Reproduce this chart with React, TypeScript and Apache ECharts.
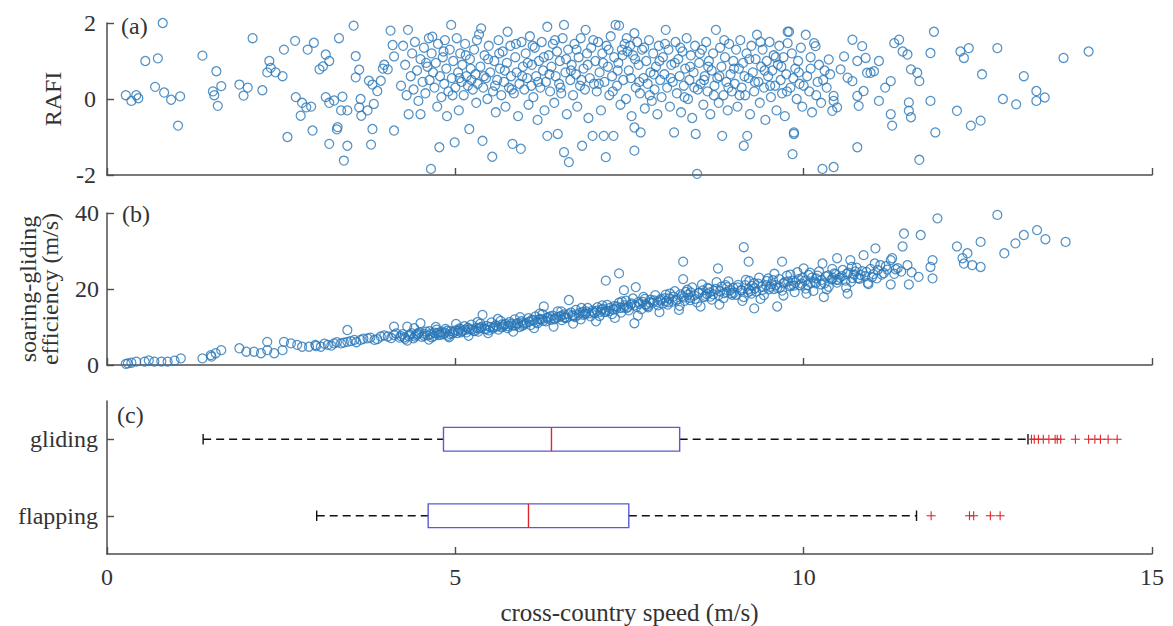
import React, { useEffect, useRef } from "react";
import * as echarts from "echarts";

// ---------- DATA ----------
// Panel (a): RAFI vs cross-country speed
const rafiSlow: number[][] = [
  [0.27, 0.1], [0.35, -0.05], [0.42, 0.1], [0.45, 0.02], [0.8, 2.0], [0.55, 1.0], [0.73, 1.07], [0.69, 0.32],
  [0.82, 0.17], [0.92, -0.02], [1.05, 0.07], [1.02, -0.7], [1.37, 1.14], [1.57, 0.73], [1.64, 0.34], [1.52, 0.2],
  [1.54, 0.1], [1.59, -0.18], [1.9, 0.38], [2.02, 0.3], [1.96, 0.09], [2.23, 0.23], [2.09, 1.6], [2.33, 1.0],
  [2.35, 0.82], [2.3, 0.7], [2.42, 0.7], [2.52, 0.6], [2.54, 1.3], [2.7, 1.53], [2.88, 1.3], [2.97, 1.48],
  [2.59, -1.0], [2.71, 0.05], [2.8, -0.1], [2.86, -0.22], [2.93, -0.2], [2.78, -0.44], [2.95, -0.83], [3.05, 0.78],
  [3.1, 0.86], [3.19, -1.18], [3.14, 1.17], [3.19, 1.0], [3.33, 1.6], [3.54, 1.93], [3.14, 0.05], [3.19, -0.1],
  [3.26, -0.04], [3.38, 0.06], [3.36, -0.3], [3.45, -0.3], [3.31, -0.74], [3.3, -0.8], [3.45, -1.23], [3.4, -1.62],
  [3.64, 0.0], [3.62, -0.22], [3.65, -0.44], [3.74, -0.3], [3.79, -1.2], [3.81, -0.79], [3.83, -0.13], [3.57, 1.13],
  [3.62, 0.77], [3.57, 0.57], [3.76, 0.48], [3.81, 0.38], [3.88, 0.21], [3.93, 0.48], [3.96, 0.8], [3.98, 0.9],
  [4.03, 0.78], [4.07, 1.8], [4.1, 1.42], [4.12, 1.12], [4.12, -0.83],
];
const rafiMid: number[][] = [
  [4.22, 0.35], [4.25, 1.4], [4.28, 0.9], [4.3, 0.1], [4.32, 1.82], [4.33, -0.4], [4.36, 0.6], [4.38, 1.2],
  [4.4, 0.25], [4.42, 1.5], [4.45, 0.75], [4.47, -0.05], [4.5, -0.4], [4.5, 1.05], [4.53, 0.45], [4.55, 1.35],
  [4.57, 0.15], [4.6, 0.85], [4.62, 1.6], [4.63, 0.5], [4.65, -1.84], [4.66, 1.2], [4.67, 1.64], [4.7, 0.3],
  [4.72, 0.95], [4.74, -0.2], [4.75, 1.45], [4.77, -1.27], [4.78, 0.6], [4.8, 0.05], [4.82, 1.1], [4.84, 0.4],
  [4.85, 1.55], [4.87, 0.8], [4.88, -0.45], [4.9, 0.2], [4.92, 1.3], [4.94, 1.95], [4.95, 0.55], [4.97, 1.0],
  [4.99, -1.14], [5.0, 0.3],
  [5.02, 1.6], [5.04, 0.7], [5.05, -0.3], [5.07, 1.2], [5.09, 0.45], [5.1, 0.9], [5.12, 0.1], [5.14, 1.45],
  [5.16, 0.6], [5.18, 0.35], [5.2, -0.79], [5.21, 1.05], [5.23, 0.5], [5.25, 0.25], [5.27, 1.3], [5.29, 0.65],
  [5.3, -0.1], [5.32, 0.4], [5.34, 1.7], [5.36, 0.85], [5.37, 1.86], [5.39, -1.1], [5.4, 0.3], [5.42, 1.15],
  [5.44, 0.55], [5.46, 0.0], [5.48, 1.4], [5.5, 0.7], [5.53, -1.52], [5.54, 0.2], [5.56, 1.0], [5.58, -0.35],
  [5.6, 0.5], [5.62, 1.55], [5.64, 0.8], [5.66, 0.1], [5.68, 1.25], [5.7, 0.45], [5.72, -0.2], [5.74, 0.95],
  [5.75, 1.77], [5.77, 0.3], [5.79, 1.4], [5.8, 0.6], [5.82, -1.18], [5.84, 0.15], [5.86, 1.1], [5.88, 0.7],
  [5.9, -0.45], [5.92, 0.4], [5.94, -1.31], [5.95, 1.5], [5.97, 0.85], [5.99, 0.25],
  [6.01, 1.2], [6.03, 0.55], [6.05, -0.15], [6.07, 1.65], [6.09, 0.35], [6.1, 0.9], [6.12, 0.05], [6.14, 1.35],
  [6.16, 0.6], [6.18, -0.55], [6.2, 1.0], [6.22, 0.3], [6.24, 1.5], [6.26, 0.75], [6.28, -0.3], [6.3, 0.45],
  [6.32, 1.9], [6.32, -0.97], [6.34, 1.15], [6.36, 0.2], [6.38, 0.85], [6.4, 1.45], [6.42, -0.1], [6.44, 0.6],
  [6.46, 1.25], [6.47, -0.92], [6.49, 0.4], [6.5, 1.0], [6.52, 0.15], [6.54, 1.6], [6.56, 1.95], [6.56, -1.4],
  [6.58, 0.7], [6.6, -0.4], [6.62, 1.3], [6.63, -1.66], [6.65, 0.5], [6.67, 0.9], [6.69, 0.1], [6.71, 1.45],
  [6.73, 0.65], [6.75, -0.2], [6.77, 1.1], [6.79, 0.35], [6.8, 1.6], [6.82, -1.23], [6.84, 0.8], [6.86, 0.25],
  [6.87, 1.82], [6.89, 1.2], [6.91, -0.5], [6.93, 0.55], [6.95, 1.35], [6.97, -0.97], [6.99, 0.4],
];
const rafiFast: number[][] = [
  [7.01, 1.0], [7.03, 0.2], [7.05, 1.5], [7.07, 0.7], [7.09, -0.3], [7.11, 1.2], [7.13, -0.97], [7.14, 0.45],
  [7.16, -1.53], [7.17, 1.4], [7.19, 0.85], [7.21, 0.1], [7.23, 1.65], [7.25, 0.6], [7.27, -0.97], [7.28, 1.1],
  [7.3, 1.95], [7.32, 0.35], [7.34, 0.95], [7.35, 1.93], [7.37, -0.15], [7.39, 1.3], [7.41, 0.5], [7.43, 1.45],
  [7.45, 0.0], [7.47, 1.25], [7.49, 0.75], [7.51, 1.4], [7.53, -0.45], [7.55, 1.15], [7.57, 1.73], [7.57, -0.75],
  [7.57, -1.36], [7.59, 0.3], [7.61, 1.5], [7.63, 0.9], [7.65, 0.15], [7.66, -0.88], [7.68, 1.3], [7.7, 0.55],
  [7.72, -0.25], [7.74, 1.0], [7.76, 0.4], [7.78, 1.55], [7.8, 0.7], [7.82, -0.05], [7.84, 1.2], [7.86, 0.25],
  [7.88, 0.85], [7.9, -0.4], [7.92, 1.4], [7.94, 0.5], [7.96, 0.05], [7.98, 1.1],
  [8.0, 0.65], [8.02, 1.82], [8.04, 0.3], [8.06, 1.3], [8.08, -0.2], [8.1, 0.9], [8.12, 0.45], [8.14, -0.88],
  [8.16, 1.5], [8.18, 0.15], [8.2, 1.05], [8.22, 0.6], [8.24, -0.35], [8.26, 1.25], [8.28, 0.35], [8.3, 0.8],
  [8.32, 1.6], [8.34, 0.0], [8.36, 0.5], [8.38, 1.15], [8.4, -0.5], [8.42, 0.7], [8.44, 1.4], [8.45, -0.92],
  [8.47, -1.97], [8.48, 0.25], [8.5, 0.95], [8.52, 0.4], [8.54, 1.3], [8.56, -0.15], [8.58, 0.6], [8.6, 1.5],
  [8.62, 0.2], [8.64, 1.0], [8.66, -0.4], [8.68, 0.75], [8.7, 1.2], [8.72, 0.35], [8.74, 1.82], [8.76, 0.55],
  [8.78, -0.1], [8.8, 1.35], [8.82, 0.85], [8.83, -0.97], [8.85, 0.1], [8.87, 1.1], [8.89, 0.45], [8.91, -0.3],
  [8.93, 1.45], [8.95, 0.65], [8.97, 0.2], [8.99, 1.0],
  [9.01, 0.4], [9.03, 1.3], [9.05, -0.2], [9.07, 0.8], [9.09, 1.55], [9.11, 0.3], [9.13, 0.95], [9.14, -1.23],
  [9.16, 0.1], [9.18, 1.2], [9.19, -0.97], [9.21, 0.55], [9.23, -0.4], [9.25, 1.4], [9.27, 0.7], [9.29, 0.2],
  [9.31, 1.05], [9.33, 1.69], [9.35, 0.45], [9.37, -0.1], [9.39, 0.85], [9.41, 1.3], [9.43, 0.3], [9.45, -0.55],
  [9.47, 1.0], [9.49, 0.6], [9.51, 1.5], [9.53, 0.05], [9.55, 0.75], [9.57, 1.15], [9.59, 0.35], [9.61, -0.3],
  [9.63, 0.9], [9.65, 1.4], [9.67, 0.5], [9.69, 0.15], [9.71, 1.1], [9.73, -0.45], [9.75, 0.65], [9.77, 1.77],
  [9.77, 1.47], [9.79, 1.77], [9.81, 0.3], [9.83, 1.2], [9.84, -1.45], [9.86, -0.92], [9.86, -0.88], [9.88, 0.8],
  [9.9, 0.0], [9.92, 1.0], [9.94, 0.4], [9.96, 1.35], [9.98, -0.2],
];
const rafiFastest: number[][] = [
  [10.03, 1.69], [10.05, 0.6], [10.08, 0.2], [10.1, 1.1], [10.12, -0.35], [10.15, 1.47], [10.17, 1.39], [10.2, 0.45],
  [10.22, 0.9], [10.25, -0.1], [10.27, -1.84], [10.3, 0.75], [10.33, 0.3], [10.36, 1.04], [10.41, -0.31], [10.43, 0.08],
  [10.43, -0.05], [10.43, -1.79], [10.48, -0.22], [10.53, 0.78], [10.58, 1.12], [10.63, 0.56], [10.7, 0.47], [10.7, 1.56],
  [10.77, 1.0], [10.77, 0.08], [10.77, -1.27], [10.79, -0.18], [10.84, 1.39], [10.86, 0.21], [10.89, 1.08], [10.91, 0.69],
  [10.96, 0.69], [11.01, 0.73], [11.08, 1.0], [11.08, -0.05], [11.17, 0.3], [11.25, 0.47], [11.25, -0.4], [11.27, -0.7],
  [11.3, 1.47], [11.37, 1.56], [11.42, 1.25], [11.49, 1.17], [11.51, -0.09], [11.51, -0.31], [11.54, -0.48], [11.54, 0.78],
  [11.63, 0.69], [11.66, 0.47], [11.66, -1.6], [11.82, 1.21], [11.82, -0.05], [11.87, 1.77], [11.89, -0.88], [12.2, -0.31],
  [12.25, 1.25], [12.3, 1.08], [12.37, 1.34], [12.4, -0.7], [12.54, -0.57], [12.56, 0.65], [12.78, 1.34], [12.86, 0.0],
  [13.05, -0.14], [13.16, 0.6], [13.34, 0.21], [13.34, -0.05], [13.46, 0.04], [13.73, 1.08], [14.09, 1.25],
];
const rafiDense: number[][] = [
  [4.58, 0.95], [4.68, 0.7], [4.83, 1.25], [4.96, 0.1], [5.06, 0.55], [5.15, 1.15], [5.22, 0.8], [5.31, 1.55],
  [5.41, 0.6], [5.47, 1.05], [5.57, 0.35], [5.63, 1.2], [5.71, 0.75], [5.81, 0.25], [5.87, 1.45], [5.96, 0.6],
  [6.04, 0.95], [6.11, 1.4], [6.19, 0.45], [6.27, 1.1], [6.35, 0.65], [6.43, 1.55], [6.51, 0.3], [6.59, 1.05],
  [6.66, 0.75], [6.74, 1.3], [6.81, 0.5], [6.9, 0.9], [6.98, 1.55], [7.06, 0.4], [7.12, 0.95], [7.2, 1.3],
  [7.26, 0.2], [7.33, 0.75], [7.4, 1.15], [7.46, 1.6], [7.52, 0.55], [7.58, 1.05], [7.64, 0.45], [7.71, 1.35],
  [7.79, 0.1], [7.85, 0.65], [7.93, 1.0], [8.01, 1.45], [8.09, 0.55], [8.15, 0.95], [8.23, 1.35], [8.29, 0.05],
  [8.37, 0.85], [8.43, 0.3], [8.51, 1.2], [8.57, 0.5], [8.63, 0.85], [8.71, 0.1], [8.79, 0.6], [8.86, 1.55],
  [8.92, 0.3], [9.0, 0.8], [9.08, 0.1], [9.15, 0.6], [9.22, 1.05], [9.3, 0.45], [9.38, 1.5], [9.44, 0.75],
  [9.52, 0.35], [9.6, 1.1], [9.68, 0.85], [9.76, 0.2], [9.85, 0.55], [9.93, 0.7], [10.0, 0.35], [10.1, 0.8],
  [10.18, 0.1], [10.28, 0.5], [10.38, 0.65],
];

// Panel (b): soaring-gliding efficiency vs cross-country speed
const effSlow: number[][] = [
  [0.27, 0.3], [0.3, 0.44], [0.35, 0.6], [0.42, 0.88], [0.54, 0.88], [0.6, 1.2], [0.68, 0.88], [0.78, 0.9],
  [0.87, 0.88], [0.97, 1.14], [1.06, 1.75], [1.37, 1.75], [1.49, 2.6], [1.5, 2.2], [1.56, 3.1], [1.64, 3.9],
  [1.9, 4.4], [2.0, 3.5], [2.11, 3.5], [2.21, 3.1], [2.3, 6.1], [2.3, 3.9], [2.4, 3.1], [2.52, 3.9],
  [2.54, 6.1], [2.64, 5.7], [2.73, 5.3], [2.8, 4.8], [2.9, 4.8], [2.99, 5.3], [3.07, 4.8], [3.17, 5.3],
  [3.26, 5.7], [3.36, 5.7], [3.45, 9.2], [3.45, 6.1], [3.55, 6.6], [3.64, 6.6], [3.74, 7.0], [3.84, 6.6],
  [3.93, 7.5], [4.03, 7.5], [4.12, 10.1], [4.12, 7.9],
];
const effMid: number[][] = [
  [4.2, 7.2], [4.24, 8.1], [4.28, 6.9], [4.31, 10.1], [4.33, 7.6], [4.37, 8.4], [4.4, 7.0], [4.44, 7.9],
  [4.48, 8.6], [4.5, 11.0], [4.52, 7.4], [4.56, 8.2], [4.6, 7.8], [4.63, 8.9], [4.66, 7.3], [4.7, 8.5],
  [4.73, 9.3], [4.76, 7.9], [4.8, 8.7], [4.83, 8.1], [4.86, 9.5], [4.9, 7.7], [4.93, 8.9], [4.96, 8.3], [5.0, 9.1],
  [5.03, 8.4], [5.06, 9.6], [5.1, 8.9], [5.13, 10.2], [5.16, 8.6], [5.2, 9.4], [5.23, 10.6], [5.26, 9.0],
  [5.3, 9.8], [5.33, 8.8], [5.36, 10.9], [5.39, 13.2], [5.42, 9.5], [5.45, 10.3], [5.48, 9.1], [5.52, 11.2],
  [5.55, 9.9], [5.58, 10.5], [5.62, 9.3], [5.65, 11.6], [5.68, 10.1], [5.72, 10.8], [5.75, 9.7], [5.78, 11.3],
  [5.82, 10.4], [5.85, 12.0], [5.88, 10.9], [5.92, 10.0], [5.95, 11.5], [5.98, 10.6],
  [6.02, 11.1], [6.05, 12.3], [6.08, 10.5], [6.12, 11.7], [6.15, 12.8], [6.18, 11.0], [6.22, 12.1], [6.25, 13.4],
  [6.27, 15.4], [6.3, 11.5], [6.33, 12.6], [6.37, 11.9], [6.4, 13.0], [6.43, 12.2], [6.47, 14.1], [6.5, 12.7],
  [6.53, 11.8], [6.56, 13.3], [6.6, 12.4], [6.63, 17.1], [6.66, 13.8], [6.7, 12.9], [6.73, 14.5], [6.77, 13.2],
  [6.8, 12.0], [6.83, 14.0], [6.87, 13.5], [6.9, 15.0], [6.94, 12.8], [6.97, 14.3],
];
const effFast: number[][] = [
  [7.0, 13.7], [7.04, 15.2], [7.07, 12.9], [7.1, 14.6], [7.14, 13.9], [7.16, 22.2], [7.18, 15.8], [7.21, 14.2],
  [7.25, 13.4], [7.28, 15.5], [7.31, 14.8], [7.35, 24.1], [7.35, 16.4], [7.38, 13.8], [7.42, 19.7], [7.42, 15.1],
  [7.45, 16.9], [7.49, 14.4], [7.52, 15.9], [7.55, 17.5], [7.57, 11.0], [7.59, 20.5], [7.6, 15.3], [7.63, 16.6],
  [7.67, 14.7], [7.7, 17.9], [7.73, 16.0], [7.77, 15.2], [7.8, 17.2], [7.84, 16.4], [7.87, 18.4], [7.91, 15.7],
  [7.94, 17.0], [7.98, 16.2],
  [8.01, 17.6], [8.05, 15.9], [8.08, 18.8], [8.12, 16.7], [8.15, 19.4], [8.19, 17.3], [8.22, 15.6], [8.25, 18.1],
  [8.27, 27.2], [8.27, 22.6], [8.29, 16.9], [8.33, 19.8], [8.36, 17.7], [8.4, 20.4], [8.43, 18.3], [8.47, 16.5],
  [8.5, 19.0], [8.54, 21.2], [8.57, 17.9], [8.61, 18.7], [8.64, 20.1], [8.68, 17.2], [8.71, 19.5], [8.75, 21.8],
  [8.77, 25.4], [8.78, 18.4], [8.82, 20.6], [8.85, 17.6], [8.89, 19.2], [8.92, 22.0], [8.96, 18.9], [8.99, 20.3],
  [9.03, 18.5], [9.06, 21.1], [9.1, 19.7], [9.14, 31.0], [9.14, 17.9], [9.17, 22.4], [9.21, 27.2], [9.21, 20.0],
  [9.25, 18.8], [9.29, 14.9], [9.29, 21.5], [9.32, 19.3], [9.36, 23.0], [9.4, 20.6], [9.43, 18.4], [9.47, 22.1],
  [9.5, 19.9], [9.54, 21.3], [9.58, 24.0], [9.62, 15.4], [9.62, 20.3], [9.65, 22.6], [9.69, 27.2], [9.69, 19.6],
  [9.73, 21.8], [9.76, 23.5], [9.8, 20.7], [9.84, 22.2], [9.87, 19.2], [9.91, 24.4], [9.95, 21.0], [9.98, 22.9],
];
const effFastest: number[][] = [
  [10.0, 25.4], [10.03, 20.1], [10.07, 23.7], [10.1, 21.6], [10.14, 19.5], [10.18, 22.8], [10.22, 24.6], [10.25, 21.2],
  [10.27, 26.7], [10.29, 17.9], [10.32, 23.3], [10.36, 20.6], [10.4, 22.5], [10.44, 24.1], [10.48, 28.1], [10.48, 21.7],
  [10.52, 23.0], [10.56, 25.0], [10.6, 22.2], [10.63, 18.8], [10.64, 24.3], [10.67, 27.6], [10.68, 21.9], [10.72, 23.8],
  [10.76, 25.6], [10.8, 22.7], [10.84, 24.7], [10.86, 28.9], [10.88, 23.4], [10.92, 21.6], [10.96, 25.3], [11.0, 23.9],
  [11.03, 30.7], [11.05, 22.8], [11.1, 26.3], [11.15, 24.2], [11.2, 25.1], [11.25, 27.6], [11.25, 21.2], [11.27, 28.1],
  [11.3, 24.0], [11.35, 25.5], [11.42, 31.2], [11.44, 34.6], [11.49, 26.3], [11.51, 21.2], [11.55, 24.4], [11.65, 23.2],
  [11.68, 34.2], [11.82, 25.8], [11.85, 27.6], [11.85, 22.8], [11.92, 38.6], [12.2, 31.2], [12.28, 28.1], [12.3, 26.7],
  [12.35, 29.4], [12.42, 26.3], [12.54, 25.8], [12.54, 32.4], [12.78, 39.5], [12.88, 29.4], [13.04, 32.0], [13.16, 34.2],
  [13.35, 35.5], [13.47, 33.1], [13.76, 32.4],
];
const effBand: number[][] = [
  [3.0, 5.0], [3.12, 5.6], [3.22, 5.1], [3.3, 6.0], [3.4, 5.9], [3.5, 6.3], [3.58, 6.0], [3.68, 6.9],
  [3.78, 7.2], [3.88, 6.8], [3.98, 7.8], [4.08, 7.1], [4.15, 8.3],
  [4.22, 7.6], [4.27, 7.3], [4.35, 8.0], [4.42, 7.5], [4.46, 8.3], [4.55, 7.7], [4.58, 8.8], [4.64, 8.1],
  [4.69, 7.6], [4.74, 8.4], [4.79, 8.0], [4.85, 8.5], [4.88, 9.0], [4.92, 8.2], [4.98, 8.7], [5.04, 9.0],
  [5.08, 8.6], [5.14, 9.2], [5.18, 9.8], [5.24, 9.3], [5.28, 8.9], [5.34, 9.6], [5.38, 10.1], [5.44, 9.4],
  [5.5, 10.0], [5.54, 9.6], [5.6, 10.2], [5.66, 9.9], [5.7, 10.5], [5.76, 10.2], [5.8, 10.8], [5.86, 10.4],
  [5.9, 11.0], [5.96, 10.3],
  [6.0, 10.9], [6.06, 11.4], [6.1, 11.9], [6.16, 11.3], [6.2, 12.0], [6.26, 11.6], [6.32, 12.3], [6.36, 12.8],
  [6.42, 12.0], [6.46, 12.6], [6.52, 13.0], [6.57, 12.5], [6.62, 13.4], [6.68, 13.1], [6.72, 12.6], [6.78, 13.7],
  [6.84, 13.2], [6.88, 14.1], [6.92, 13.6], [6.98, 13.9], [7.03, 14.3], [7.08, 14.0], [7.12, 14.8], [7.17, 14.3],
  [7.22, 15.0], [7.27, 14.6], [7.32, 15.4], [7.37, 15.0], [7.43, 15.7], [7.48, 15.3], [7.53, 16.2], [7.58, 15.7],
  [7.64, 16.1], [7.69, 16.6], [7.74, 15.8], [7.79, 16.4], [7.85, 17.0], [7.9, 16.6], [7.95, 17.4],
  [8.03, 16.8], [8.07, 17.5], [8.13, 18.0], [8.17, 17.0], [8.23, 18.6], [8.28, 17.8], [8.34, 18.5], [8.38, 19.1],
  [8.44, 17.4], [8.49, 18.9], [8.55, 19.6], [8.59, 18.2], [8.65, 19.1], [8.7, 18.6], [8.74, 20.0], [8.8, 19.4],
  [8.86, 18.9], [8.9, 20.5], [8.95, 19.7], [9.0, 19.0], [9.05, 20.4], [9.11, 19.6], [9.16, 21.0], [9.2, 19.1],
  [9.26, 20.8], [9.3, 20.2], [9.35, 21.4], [9.41, 19.8], [9.46, 21.0], [9.52, 20.6], [9.56, 22.3], [9.6, 21.0],
  [9.66, 20.4], [9.71, 21.5], [9.78, 22.0], [9.82, 20.9], [9.88, 21.7], [9.93, 22.6], [9.97, 21.4],
  [10.02, 22.2], [10.06, 21.0], [10.12, 23.0], [10.16, 21.9], [10.2, 23.5], [10.26, 22.4], [10.3, 21.5], [10.35, 23.6],
  [10.42, 22.9], [10.46, 23.9], [10.5, 22.4], [10.55, 23.4], [10.62, 24.0], [10.7, 22.9], [10.74, 24.6], [10.82, 23.7],
  [10.9, 24.5], [10.98, 23.1], [11.06, 25.0], [11.12, 23.8], [11.18, 26.0], [11.32, 25.2], [11.4, 24.6],
];
// Points along the lower and upper edges of the dense band
const effBandEdges: number[][] = [
  [4.31, 6.4], [4.62, 6.7], [4.91, 7.3], [5.19, 7.7], [5.47, 8.4], [5.83, 8.8], [6.13, 9.7], [6.41, 10.1],
  [6.69, 10.9], [7.02, 11.5], [7.29, 12.4], [7.62, 13.0], [7.93, 13.9], [8.21, 14.5], [8.52, 15.4], [8.79, 15.9],
  [9.12, 16.9], [9.38, 17.4], [9.71, 18.3], [10.04, 18.8], [10.33, 19.9], [10.61, 20.4], [10.93, 21.3],
  [4.41, 9.7], [4.72, 10.0], [5.01, 10.8], [5.32, 11.3], [5.61, 12.1], [5.93, 12.6], [6.21, 13.5], [6.52, 14.1],
  [6.81, 15.0], [7.11, 15.7], [7.39, 16.7], [7.72, 17.4], [8.02, 18.5], [8.31, 19.2], [8.62, 20.3], [8.88, 21.0],
  [9.22, 22.1], [9.49, 22.8], [9.81, 23.8], [10.09, 24.3], [10.41, 25.3], [10.69, 25.8], [11.02, 26.7],
  [4.46, 8.1], [4.77, 8.6], [5.07, 9.4], [5.36, 9.8], [5.67, 10.7], [5.97, 11.1], [6.24, 12.0], [6.57, 12.5],
  [6.86, 13.5], [7.16, 14.0], [7.46, 15.0], [7.76, 15.5], [8.06, 16.5], [8.37, 17.1], [8.66, 18.0], [8.97, 18.5],
  [9.24, 19.5], [9.57, 20.0], [9.86, 20.9], [10.17, 21.5], [10.47, 22.4], [10.78, 22.9],
];

// Panel (c): box plots of cross-country speed
const boxCategories = ["gliding", "flapping"];
// [lower whisker, Q1, median, Q3, upper whisker]
const glidingStats = [1.38, 4.83, 6.38, 8.22, 13.22];
const flappingStats = [3.01, 4.61, 6.05, 7.49, 11.62];
const glidingOutliers = [13.27, 13.31, 13.37, 13.44, 13.52, 13.61, 13.64, 13.69, 13.9, 14.09, 14.18, 14.26, 14.37, 14.5];
const flappingOutliers = [11.83, 12.38, 12.44, 12.68, 12.82];

const xMin = 0;
const xMax = 15;
const xStep = 5;

// ---------- STYLE ----------
const FONT = '"Liberation Serif", "Times New Roman", serif';
const AXIS_COLOR = "#4d4d4d";
const TEXT_COLOR = "#333333";
const DOT_COLOR = "#2877b8";
const BOX_COLOR = "#5a5ad2";
const MEDIAN_COLOR = "#e0262b";

const axisLine = { show: true, onZero: false, lineStyle: { color: AXIS_COLOR, width: 1.5 } };
const axisTick = { show: true, inside: true, length: 7, lineStyle: { color: AXIS_COLOR, width: 1.4 } };
const labelStyle = { fontFamily: FONT, fontSize: 24, color: TEXT_COLOR };

function xAxis(gridIndex: number, showLabel: boolean) {
  return {
    type: "value",
    gridIndex,
    min: xMin,
    max: xMax,
    interval: xStep,
    axisLine,
    axisTick,
    splitLine: { show: false },
    axisLabel: { show: showLabel, margin: 11, ...labelStyle },
    ...(showLabel
      ? {
          name: "cross-country speed (m/s)",
          nameLocation: "middle",
          nameGap: 46,
          nameTextStyle: { ...labelStyle, fontSize: 25 },
        }
      : {}),
  };
}

function buildOption() {
  const scatterStyle = {
    type: "scatter",
    symbol: "circle",
    symbolSize: 9,
    itemStyle: { color: "rgba(0,0,0,0)", borderColor: DOT_COLOR, borderWidth: 1.25 },
    silent: true,
  };

  const boxData = [
    [0, ...glidingStats],
    [1, ...flappingStats],
  ];
  const outlierData = [
    ...glidingOutliers.map((v) => [v, 0]),
    ...flappingOutliers.map((v) => [v, 1]),
  ];

  return {
    animation: false,
    backgroundColor: "#ffffff",
    grid: [
      { left: 107, width: 1045, top: 23, height: 152 },
      { left: 107, width: 1045, top: 213, height: 152 },
      { left: 107, width: 1045, top: 401, height: 154 },
    ],
    xAxis: [xAxis(0, false), xAxis(1, false), xAxis(2, true)],
    yAxis: [
      {
        type: "value",
        gridIndex: 0,
        min: -2,
        max: 2,
        interval: 2,
        axisLine,
        axisTick,
        splitLine: { show: false },
        axisLabel: { margin: 11, ...labelStyle },
        name: "RAFI",
        nameLocation: "middle",
        nameGap: 36,
        nameTextStyle: { ...labelStyle },
      },
      {
        type: "value",
        gridIndex: 1,
        min: 0,
        max: 40,
        interval: 20,
        axisLine,
        axisTick,
        splitLine: { show: false },
        axisLabel: { margin: 8, ...labelStyle },
        name: "soaring-gliding\nefficiency (m/s)",
        nameLocation: "middle",
        nameGap: 46,
        nameTextStyle: { ...labelStyle, lineHeight: 22 },
      },
      {
        type: "category",
        gridIndex: 2,
        data: boxCategories,
        inverse: true,
        axisLine,
        axisTick: { ...axisTick, alignWithLabel: true },
        splitLine: { show: false },
        axisLabel: { margin: 9, ...labelStyle },
      },
    ],
    graphic: [
      { type: "text", left: 121, top: 14, style: { text: "(a)", font: `24px ${FONT}`, fill: TEXT_COLOR } },
      { type: "text", left: 122, top: 202, style: { text: "(b)", font: `24px ${FONT}`, fill: TEXT_COLOR } },
      { type: "text", left: 117, top: 403, style: { text: "(c)", font: `24px ${FONT}`, fill: TEXT_COLOR } },
    ],
    series: [
      {
        ...scatterStyle,
        xAxisIndex: 0,
        yAxisIndex: 0,
        data: [...rafiSlow, ...rafiMid, ...rafiFast, ...rafiFastest, ...rafiDense],
      },
      {
        ...scatterStyle,
        xAxisIndex: 1,
        yAxisIndex: 1,
        data: [...effSlow, ...effMid, ...effFast, ...effFastest, ...effBand, ...effBandEdges],
      },
      {
        type: "custom",
        xAxisIndex: 2,
        yAxisIndex: 2,
        silent: true,
        data: boxData,
        encode: { x: [1, 2, 3, 4, 5], y: 0 },
        renderItem: (params: any, api: any) => {
          const ci = api.value(0);
          const lo = api.coord([api.value(1), ci]);
          const q1 = api.coord([api.value(2), ci]);
          const md = api.coord([api.value(3), ci]);
          const q3 = api.coord([api.value(4), ci]);
          const hi = api.coord([api.value(5), ci]);
          const band = api.size([0, 1])[1];
          const h = band * 0.31;
          const cap = h * 0.22;
          const y = lo[1];
          const dash = { stroke: "#111111", lineWidth: 1.4, lineDash: [8, 5], fill: null };
          const solid = { stroke: "#111111", lineWidth: 1.4 };
          return {
            type: "group",
            children: [
              { type: "line", shape: { x1: lo[0], y1: y, x2: q1[0], y2: y }, style: dash },
              { type: "line", shape: { x1: q3[0], y1: y, x2: hi[0], y2: y }, style: dash },
              { type: "line", shape: { x1: lo[0], y1: y - cap, x2: lo[0], y2: y + cap }, style: solid },
              { type: "line", shape: { x1: hi[0], y1: y - cap, x2: hi[0], y2: y + cap }, style: solid },
              {
                type: "rect",
                shape: { x: q1[0], y: y - h / 2, width: q3[0] - q1[0], height: h },
                style: { stroke: BOX_COLOR, lineWidth: 1.4, fill: "rgba(0,0,0,0)" },
              },
              {
                type: "line",
                shape: { x1: md[0], y1: y - h / 2, x2: md[0], y2: y + h / 2 },
                style: { stroke: MEDIAN_COLOR, lineWidth: 1.4 },
              },
            ],
          };
        },
      },
      {
        type: "custom",
        xAxisIndex: 2,
        yAxisIndex: 2,
        silent: true,
        data: outlierData,
        encode: { x: 0, y: 1 },
        renderItem: (params: any, api: any) => {
          const p = api.coord([api.value(0), api.value(1)]);
          const s = 4.5;
          const st = { stroke: MEDIAN_COLOR, lineWidth: 1.1 };
          return {
            type: "group",
            children: [
              { type: "line", shape: { x1: p[0] - s, y1: p[1], x2: p[0] + s, y2: p[1] }, style: st },
              { type: "line", shape: { x1: p[0], y1: p[1] - s, x2: p[0], y2: p[1] + s }, style: st },
            ],
          };
        },
      },
    ],
  };
}

export default function App() {
  const ref = useRef<HTMLDivElement>(null);
  useEffect(() => {
    if (!ref.current) return;
    const chart = echarts.init(ref.current, undefined, { renderer: "svg" });
    chart.setOption(buildOption() as any);
    return () => chart.dispose();
  }, []);
  return (
    <div
      ref={ref}
      style={{ position: "fixed", left: 0, top: 0, width: 1173, height: 626, background: "#fff" }}
    />
  );
}
